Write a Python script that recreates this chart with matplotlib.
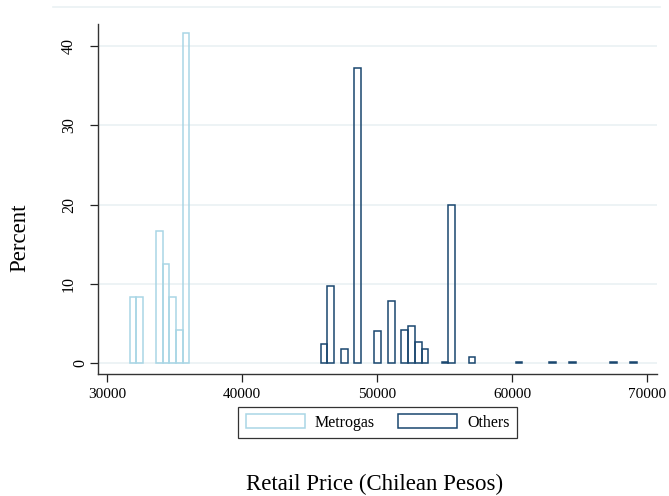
import numpy as np
import matplotlib
matplotlib.use("Agg")
import matplotlib.pyplot as plt
from matplotlib.patches import Patch
from matplotlib.lines import Line2D
import matplotlib.transforms as mtransforms

plt.rcParams['font.family'] = ['Liberation Serif', 'DejaVu Serif']

# histogram bins (Chilean pesos) and percent per bin
metro_start = 31681
metro_width = 490
metro_bins = [0, 1, 4, 5, 6, 7, 8]
metro_pct = [8.33, 8.33, 16.67, 12.5, 8.33, 4.17, 41.67]

other_start = 45830
other_width = 498
other_bins = [0, 1, 3, 5, 8, 10, 12, 13, 14, 15, 18, 19, 22, 29, 34, 37, 43, 46]
other_pct = [2.4, 9.7, 1.8, 37.3, 4.1, 7.8, 4.2, 4.7, 2.7, 1.8,
             0.15, 19.9, 0.72, 0.15, 0.15, 0.15, 0.15, 0.15]

xticks = [30000, 40000, 50000, 60000, 70000]
yticks = [0, 10, 20, 30, 40]

c_metro = '#a9d6e5'
c_other = '#1a476f'
c_grid = '#eaf1f3'

W, H = 669, 496
fig = plt.figure(figsize=(W / 100, H / 100), dpi=100)
ax = fig.add_axes([98 / W, 1 - 374 / H, (657 - 98) / W, (374 - 24) / H])

metro_left = [metro_start + b * metro_width for b in metro_bins]
other_left = [other_start + b * other_width for b in other_bins]

ax.bar(metro_left, metro_pct, width=metro_width, align='edge', fill=False,
       edgecolor=c_metro, linewidth=1.1, zorder=3)
ax.bar(other_left, other_pct, width=other_width, align='edge', fill=False,
       edgecolor=c_other, linewidth=1.1, zorder=3)

ax.set_xlim(29333, 70741)
ax.set_ylim(-1.39, 42.8)

for t in yticks:
    ax.axhline(t, color=c_grid, linewidth=1.2, zorder=1)

for s in ['top', 'right']:
    ax.spines[s].set_visible(False)
for s in ['left', 'bottom']:
    ax.spines[s].set_color('#333333')
    ax.spines[s].set_linewidth(1.0)

ax.set_xticks(xticks)
ax.set_xticklabels([str(t) for t in xticks], fontsize=11)
ax.tick_params(axis='x', length=6, width=0.9, pad=4, color='#222222')
ax.set_yticks(yticks)
ax.set_yticklabels([])
ax.tick_params(axis='y', length=6, width=0.9, color='#222222')

# y tick labels, rotated like Stata's default
ax_w = ax.get_position().width * W
trans = mtransforms.blended_transform_factory(ax.transAxes, ax.transData)
for t in yticks:
    xc = 80 if t == 0 else 69
    ax.text((xc - 98) / ax_w, t, str(t), transform=trans, rotation=90,
            ha='center', va='center', fontsize=11.5)

fig.text(375 / W, 1 - 484 / H, 'Retail Price (Chilean Pesos)', ha='center',
         va='center', fontsize=16.5)
fig.text(20 / W, 1 - 238 / H, 'Percent', ha='center', va='center',
         rotation=90, fontsize=16.5)

# faint outer plot region line at top
fig.add_artist(Line2D([53 / W, 660 / W], [1 - 7 / H, 1 - 7 / H],
                      color=c_grid, linewidth=1.2, transform=fig.transFigure))

handles = [Patch(facecolor='white', edgecolor=c_metro, linewidth=1.1, label='Metrogas'),
           Patch(facecolor='white', edgecolor=c_other, linewidth=1.1, label='Others')]
leg = fig.legend(handles=handles, loc='center', ncol=2,
                 bbox_to_anchor=(377.5 / W, 1 - 422.5 / H), bbox_transform=fig.transFigure,
                 fontsize=11.5, frameon=True, fancybox=False, edgecolor='black',
                 handlelength=3.7, handleheight=1.0, handletextpad=0.6,
                 columnspacing=1.5, borderpad=0.45)
leg.get_frame().set_linewidth(0.9)

fig.savefig('out.png', dpi=100)
